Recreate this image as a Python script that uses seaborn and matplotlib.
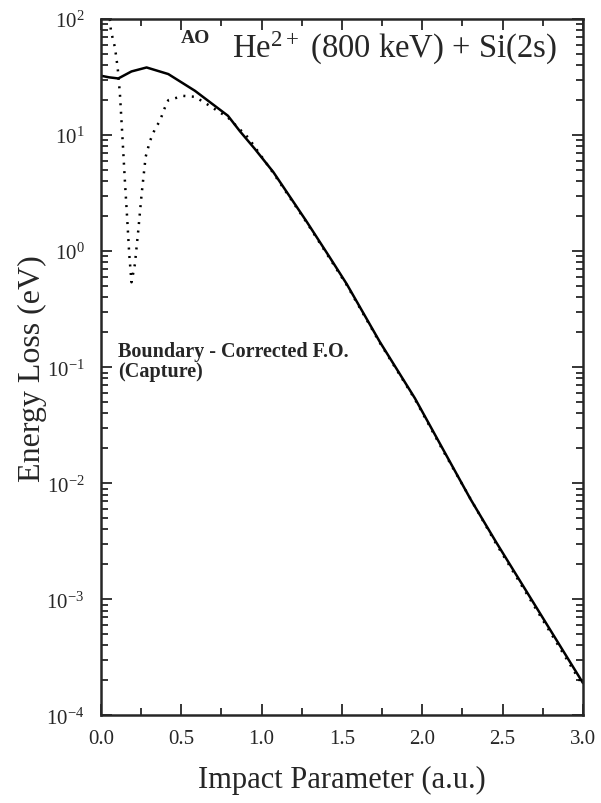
import numpy as np
import pandas as pd
import matplotlib
matplotlib.use("Agg")
import matplotlib.pyplot as plt
import seaborn as sns
from matplotlib.ticker import LogLocator, MultipleLocator

# AO curve (solid)
ao_b = [0.0, 0.05, 0.108, 0.19, 0.284, 0.419, 0.585, 0.79, 0.865, 0.958,
        1.073, 1.28, 1.425, 1.53, 1.736, 1.954, 2.05, 2.13, 2.30, 2.46, 3.0]
ao_e = [32.5, 31.5, 30.8, 35.4, 38.3, 33.6, 24.1, 14.7, 10.8, 7.6,
        4.8, 1.8, 0.88, 0.52, 0.165, 0.054, 0.031, 0.0195, 0.0073, 0.0031, 0.00019]

# Boundary-corrected first order (capture), dotted
fo_b = [0.055, 0.062, 0.087, 0.104, 0.118, 0.135, 0.149, 0.164, 0.176, 0.19,
        0.211, 0.232, 0.253, 0.278, 0.305, 0.336, 0.367, 0.398, 0.419, 0.512,
        0.585, 0.668, 0.79, 0.917, 1.073, 1.28, 1.425, 1.53, 1.736, 1.954,
        2.13, 2.46, 3.0]
fo_e = [100, 79, 57, 38, 22.6, 8.9, 4.0, 1.83, 0.94, 0.54,
        0.77, 1.5, 3.1, 6.5, 8.9, 11.3, 13.3, 17.3, 20.0, 21.8,
        21.4, 18.2, 14.2, 9.5, 4.7, 1.77, 0.86, 0.51, 0.162, 0.053,
        0.019, 0.003, 0.00018]

ao = pd.DataFrame({"b": ao_b, "E": ao_e})
fo = pd.DataFrame({"b": fo_b, "E": fo_e})

sns.set_style("ticks")
plt.rcParams["font.family"] = ["Liberation Serif", "DejaVu Serif"]
plt.rcParams["mathtext.fontset"] = "custom"
plt.rcParams["mathtext.rm"] = "Liberation Serif"
plt.rcParams["mathtext.it"] = "Liberation Serif:italic"
plt.rcParams["mathtext.bf"] = "Liberation Serif:bold"

fig = plt.figure(figsize=(6.01, 8.04), dpi=100)
ax = fig.add_axes([0.168, 0.109, 0.802, 0.866])

sns.lineplot(data=ao, x="b", y="E", ax=ax, color="black", linewidth=1.8)
sns.lineplot(data=fo, x="b", y="E", ax=ax, color="black", linewidth=1.8,
             linestyle=(0, (0.8, 2.6)))

ax.set_yscale("log")
ax.set_xlim(0, 3.0)
ax.set_ylim(1e-4, 1e2)

ax.xaxis.set_major_locator(MultipleLocator(0.5))
ax.xaxis.set_minor_locator(MultipleLocator(0.25))
ax.xaxis.set_major_formatter(plt.FuncFormatter(lambda v, p: f"{v:.1f}"))
ax.yaxis.set_major_locator(LogLocator(base=10, numticks=10))
ax.yaxis.set_minor_locator(LogLocator(base=10, subs=np.arange(2, 10), numticks=10))

ax.tick_params(which="both", direction="in", top=True, right=True,
               width=1.3, labelsize=15)
ax.tick_params(axis="x", pad=10)
ax.tick_params(axis="y", pad=12)
ax.tick_params(which="major", length=8)
ax.tick_params(which="minor", length=5)
for s in ax.spines.values():
    s.set_linewidth(1.8)

ax.set_xlabel("Impact Parameter (a.u.)", fontsize=22, labelpad=12)
ax.set_ylabel("Energy Loss (eV)", fontsize=23, labelpad=-1)

ax.text(0.59, 70, "AO", fontsize=14, fontweight="bold", ha="center", va="center")
ax.text(0.815, 57, r"He$^{2+}$ (800 keV) + Si(2s)", fontsize=23.5, va="center")
ax.text(0.106, 0.137, "Boundary - Corrected F.O.", fontsize=14.5,
        fontweight="bold", va="center")
ax.text(0.106, 0.092, "(Capture)", fontsize=14.5, fontweight="bold", va="center")

fig.savefig("out.png", dpi=100)
